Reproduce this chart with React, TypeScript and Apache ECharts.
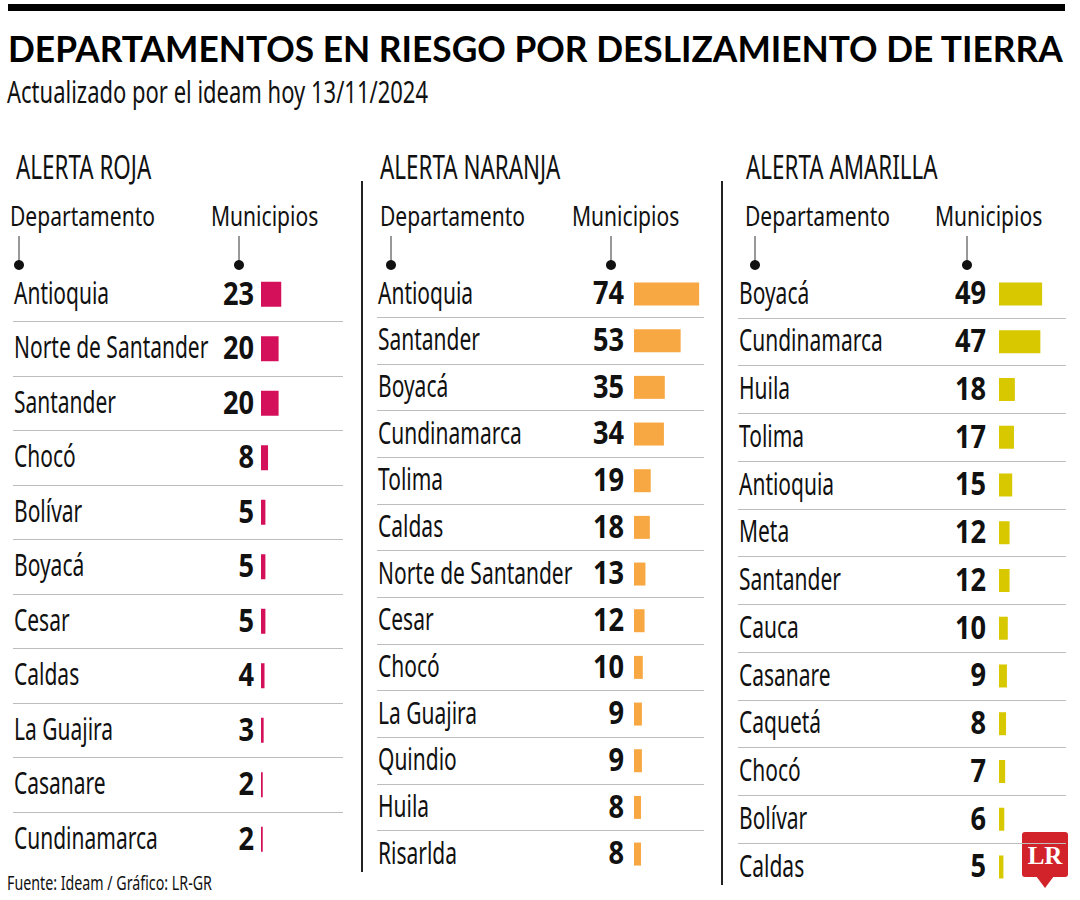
import React, { useEffect, useRef } from "react";
import * as echarts from "echarts";

const TITLE = "DEPARTAMENTOS EN RIESGO POR DESLIZAMIENTO DE TIERRA";
const SUBTITLE = "Actualizado por el ideam hoy 13/11/2024";
const SOURCE = "Fuente: Ideam / Gráfico: LR-GR";
const COL_DEPTO = "Departamento";
const COL_MUNI = "Municipios";

const rojaTitle = "ALERTA ROJA";
const rojaDeptos = ["Antioquia", "Norte de Santander", "Santander", "Chocó", "Bolívar", "Boyacá", "Cesar", "Caldas", "La Guajira", "Casanare", "Cundinamarca"];
const rojaValues = [23, 20, 20, 8, 5, 5, 5, 4, 3, 2, 2];

const naranjaTitle = "ALERTA NARANJA";
const naranjaDeptos = ["Antioquia", "Santander", "Boyacá", "Cundinamarca", "Tolima", "Caldas", "Norte de Santander", "Cesar", "Chocó", "La Guajira", "Quindio", "Huila", "Risarlda"];
const naranjaValues = [74, 53, 35, 34, 19, 18, 13, 12, 10, 9, 9, 8, 8];

const amarillaTitle = "ALERTA AMARILLA";
const amarillaDeptos = ["Boyacá", "Cundinamarca", "Huila", "Tolima", "Antioquia", "Meta", "Santander", "Cauca", "Casanare", "Caquetá", "Chocó", "Bolívar", "Caldas"];
const amarillaValues = [49, 47, 18, 17, 15, 12, 12, 10, 9, 8, 7, 6, 5];

const BODY = '"Noto Sans", "DejaVu Sans", sans-serif';
const K = 0.88; // px per municipio
const NAME_SCALE = 0.7;
const NUM_SCALE = 0.85;
const TEXT_DY = -2;

const panels = [
  { title: rojaTitle, names: rojaDeptos, values: rojaValues, color: "#D5105A", left: 13, right: 343, zero: 261, top: 267, rowH: 54.5, barW: 25, labelDist: 7, headX: 16, deptX: 10, muniX: 211, dotDept: 19, dotMuni: 239 },
  { title: naranjaTitle, names: naranjaDeptos, values: naranjaValues, color: "#F8A843", left: 377, right: 704, zero: 634, top: 270.7, rowH: 46.67, barW: 23, labelDist: 10, headX: 380, deptX: 380, muniX: 572, dotDept: 391, dotMuni: 611 },
  { title: amarillaTitle, names: amarillaDeptos, values: amarillaValues, color: "#D8C800", left: 738, right: 1066, zero: 999, top: 270.1, rowH: 47.75, barW: 23, labelDist: 13, headX: 746, deptX: 745, muniX: 935, dotDept: 755, dotMuni: 967 },
];

function measure(text: string, font: string): number {
  const c = document.createElement("canvas");
  const ctx = c.getContext("2d")!;
  ctx.font = font;
  return ctx.measureText(text).width;
}

export default function App() {
  const ref = useRef<HTMLDivElement>(null);
  useEffect(() => {
    document.body.style.margin = "0";
    const chart = echarts.init(ref.current!, null, { renderer: "svg" });

    const titleFont = "bold 37px Lato";
    const titleScale = 1057 / measure(TITLE, titleFont);
    const subFont = '30px "Noto Sans"';
    const subScale = 421 / measure(SUBTITLE, subFont);
    const srcFont = '19px "Noto Sans"';
    const srcScale = 205 / measure(SOURCE, srcFont);

    const graphics: any[] = [
      { type: "rect", shape: { x: 8, y: 4, width: 1057, height: 7 }, style: { fill: "#000" } },
      { type: "text", x: 8, y: 48, scaleX: titleScale, style: { text: TITLE, font: titleFont, fill: "#000", verticalAlign: "middle", align: "left" } },
      { type: "text", x: 7, y: 92, scaleX: subScale, style: { text: SUBTITLE, font: subFont, fill: "#111", verticalAlign: "middle" } },
      { type: "text", x: 7, y: 883, scaleX: srcScale, style: { text: SOURCE, font: srcFont, fill: "#111", verticalAlign: "middle" } },
      { type: "line", shape: { x1: 362, y1: 181, x2: 362, y2: 872 }, style: { stroke: "#222", lineWidth: 2 } },
      { type: "line", shape: { x1: 722, y1: 181, x2: 722, y2: 885 }, style: { stroke: "#222", lineWidth: 2 } },
      // logo
      { type: "rect", shape: { x: 1022, y: 832, width: 46, height: 45, r: 3 }, style: { fill: "#D2232A" } },
      { type: "polygon", shape: { points: [[1036, 876], [1054, 876], [1045, 888]] }, style: { fill: "#D2232A" } },
      { type: "text", x: 1045, y: 855, style: { text: "LR", fontFamily: '"Liberation Serif", "DejaVu Serif", serif', fontWeight: "bold", fontSize: 25, fill: "#fff", align: "center", verticalAlign: "middle" } },
    ];
    panels.forEach((p) => {
      graphics.push(
        { type: "text", x: p.headX, y: 166, scaleX: NAME_SCALE, style: { text: p.title, fontFamily: BODY, fontSize: 32, fill: "#111", verticalAlign: "middle" } },
        { type: "text", x: p.deptX, y: 215, scaleX: 0.78, style: { text: COL_DEPTO, fontFamily: BODY, fontSize: 27, fill: "#111", verticalAlign: "middle" } },
        { type: "text", x: p.muniX, y: 215, scaleX: 0.78, style: { text: COL_MUNI, fontFamily: BODY, fontSize: 27, fill: "#111", verticalAlign: "middle" } },
        { type: "line", shape: { x1: p.dotDept, y1: 236, x2: p.dotDept, y2: 262 }, style: { stroke: "#333", lineWidth: 1 } },
        { type: "line", shape: { x1: p.dotMuni, y1: 236, x2: p.dotMuni, y2: 262 }, style: { stroke: "#333", lineWidth: 1 } },
        { type: "circle", shape: { cx: p.dotDept, cy: 265, r: 5 }, style: { fill: "#111" } },
        { type: "circle", shape: { cx: p.dotMuni, cy: 265, r: 5 }, style: { fill: "#111" } }
      );
    });

    const xMin = (p: any) => -(p.zero - p.left) / K;

    chart.setOption({
      animation: false,
      backgroundColor: "#fff",
      grid: panels.map((p) => ({ left: p.left, top: p.top, width: p.right - p.left, height: p.rowH * p.names.length, containLabel: false })),
      xAxis: panels.map((p, i) => ({
        gridIndex: i, type: "value", show: false,
        min: xMin(p), max: (p.right - p.zero) / K,
        splitLine: { show: false },
      })),
      yAxis: panels.map((p, i) => ({
        gridIndex: i, type: "category", inverse: true, data: p.names,
        axisLine: { show: false }, axisTick: { show: false },
        axisLabel: { show: false },
        splitLine: { show: true, interval: 0, showMinLine: false, showMaxLine: false, lineStyle: { color: "#bdbdbd", width: 1 } },
      })),
      series: [
        ...panels.map((p, i) => ({
          type: "bar", xAxisIndex: i, yAxisIndex: i, data: p.values, barWidth: p.barW, silent: true,
          itemStyle: { color: p.color },
        })),
        ...panels.map((p, i) => ({
          type: "custom", xAxisIndex: i, yAxisIndex: i, silent: true, z: 5,
          data: p.names.map((n, j) => [p.values[j], n]),
          encode: { x: 0, y: 1 },
          renderItem: (params: any, api: any) => {
            const idx = params.dataIndex;
            const cat = api.value(1);
            const zero = api.coord([0, cat]);
            const start = api.coord([xMin(p), cat]);
            return {
              type: "group",
              children: [
                { type: "text", x: start[0] + 1, y: zero[1] + TEXT_DY, scaleX: NAME_SCALE, style: { text: p.names[idx], fontFamily: BODY, fontSize: 30, fill: "#111", align: "left", verticalAlign: "middle" } },
                { type: "text", x: zero[0] - p.labelDist, y: zero[1] + TEXT_DY, scaleX: NUM_SCALE, style: { text: String(api.value(0)), fontFamily: BODY, fontWeight: "bold", fontSize: 32, fill: "#111", align: "right", verticalAlign: "middle" } },
              ],
            };
          },
        })),
      ],
      graphic: graphics,
    });
    return () => chart.dispose();
  }, []);
  return <div ref={ref} style={{ width: 1080, height: 900 }} />;
}
